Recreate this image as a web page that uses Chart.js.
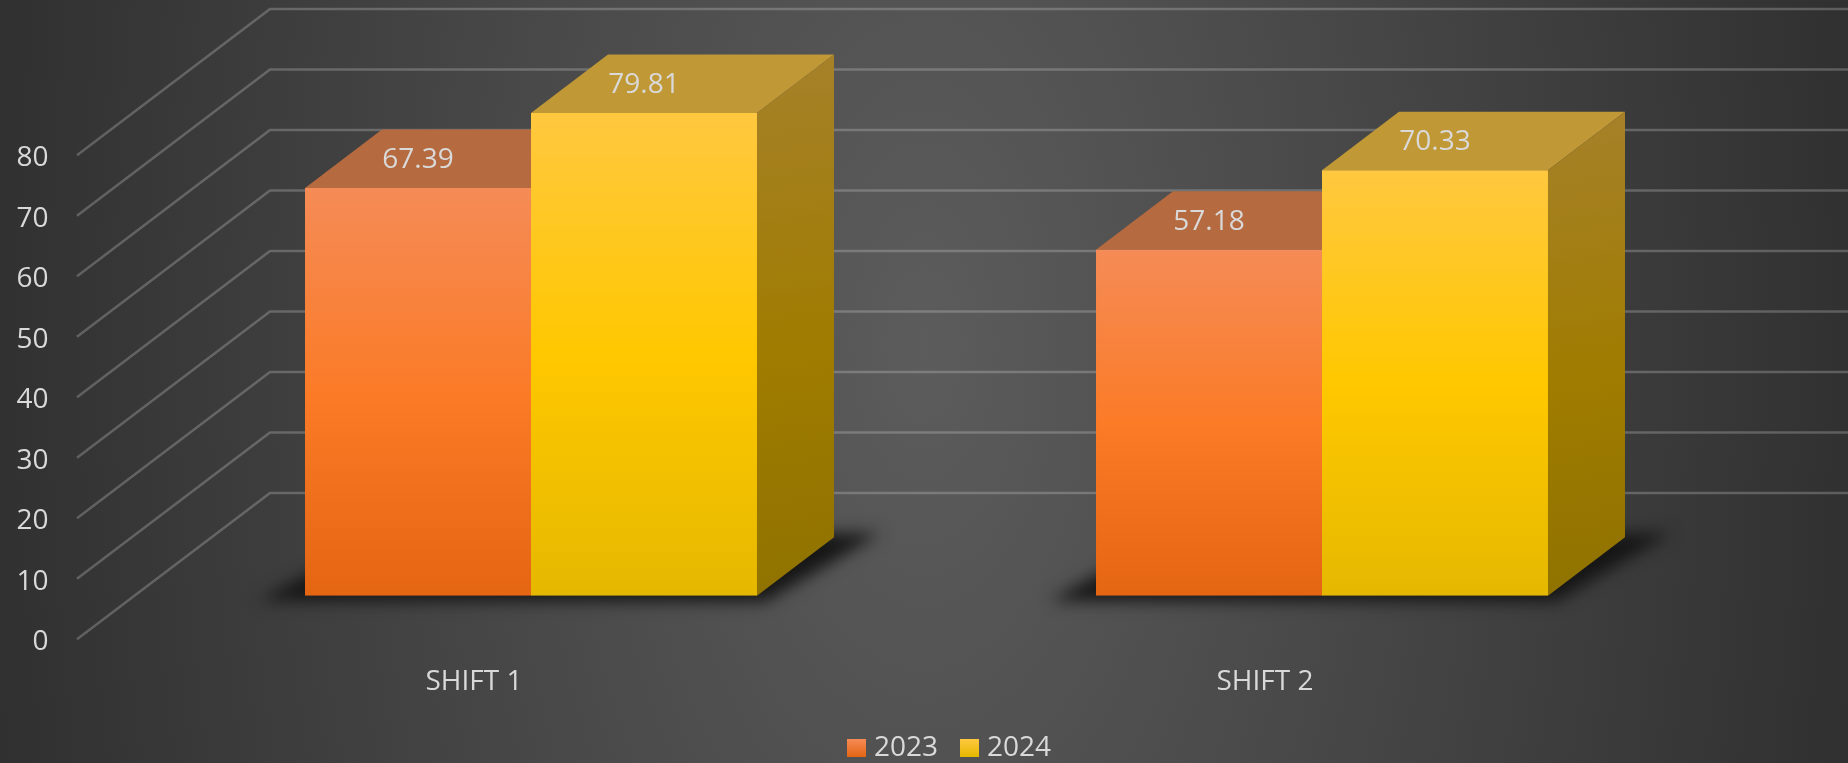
<!DOCTYPE html>
<html>
<head>
<meta charset="utf-8">
<title>Shift comparison</title>
<style>
    html, body { margin: 0; padding: 0; background: #2e2e2e; overflow: hidden; }
    #wrap {
        width: 1848px;
        height: 763px;
        background: radial-gradient(ellipse 51% 240% at 50% 45%, #5c5c5c 0%, #303030 100%);
    }
    canvas { display: block; }
</style>
<script src="https://cdn.jsdelivr.net/npm/chart.js@4/dist/chart.umd.js"></script>
</head>
<body>
<div id="wrap"><canvas id="shiftChart" width="1848" height="763"></canvas></div>
<script>
// Data
const categories = ['SHIFT 1', 'SHIFT 2'];
const series2023 = [67.39, 57.18];
const series2024 = [79.81, 70.33];
const seriesNames = ['2023', '2024'];

const FONT = '"Open Sans", "Noto Sans", sans-serif';
const FONT_SIZE = 28;
const TEXT_COLOR = '#d9d9d9';

// Oblique projection used for the fake 3D look
const DEPTH_X = 77;
const DEPTH_Y = 58.5;
const WALL_X_FRONT = 77;
const WALL_X_BACK = 270;
const FLOOR_FRONT_DY = 43.5;   // front edge of the floor, below the bar baseline
const WALL_BACK_DY = -102.7;   // back wall, above the bar baseline

const palettes = [
    {
        stops: ['#f58b56', '#fb7b27', '#e46512'],
        top: '#b66a40',
        side: ['#a5603a', '#9c5a20', '#8e4f10']
    },
    {
        stops: ['#ffc83f', '#ffc800', '#e5b800'],
        top: '#c09836',
        side: ['#a6812a', '#a07c00', '#8f7200']
    }
];

function frontGradient(context, datasetIndex) {
    const chart = context.chart;
    const yScale = chart.scales.y;
    const fallback = palettes[datasetIndex].stops[1];
    if (!yScale || context.raw === undefined) return fallback;
    const y0 = yScale.getPixelForValue(context.raw);
    const y1 = yScale.getPixelForValue(0);
    if (!Number.isFinite(y0) || !Number.isFinite(y1)) return fallback;
    const g = chart.ctx.createLinearGradient(0, y0, 0, y1);
    g.addColorStop(0, palettes[datasetIndex].stops[0]);
    g.addColorStop(0.5, palettes[datasetIndex].stops[1]);
    g.addColorStop(1, palettes[datasetIndex].stops[2]);
    return g;
}

function fillPoly(ctx, points, fill) {
    ctx.beginPath();
    points.forEach((p, i) => (i === 0 ? ctx.moveTo(p[0], p[1]) : ctx.lineTo(p[0], p[1])));
    ctx.closePath();
    ctx.fillStyle = fill;
    ctx.fill();
}

// Walls, floor shadow and the top/side faces go behind the bars
const depthPlugin = {
    id: 'depth',
    beforeDatasetsDraw(chart) {
        const ctx = chart.ctx;
        const yScale = chart.scales.y;
        const right = chart.width;

        ctx.save();
        ctx.strokeStyle = 'rgba(217, 217, 217, 0.27)';
        ctx.lineWidth = 2.5;
        yScale.ticks.forEach(tick => {
            const y = yScale.getPixelForValue(tick.value);
            ctx.beginPath();
            ctx.moveTo(WALL_X_FRONT, y + FLOOR_FRONT_DY);
            ctx.lineTo(WALL_X_BACK, y + WALL_BACK_DY);
            ctx.lineTo(right, y + WALL_BACK_DY);
            ctx.stroke();
        });
        ctx.restore();

        const metas = chart.data.datasets.map((_, i) => chart.getDatasetMeta(i));
        const base = yScale.getPixelForValue(0);

        // Shadow under each group of bars
        ctx.save();
        ctx.filter = 'blur(8px)';
        categories.forEach((_, j) => {
            const first = metas[0].data[j];
            const last = metas[metas.length - 1].data[j];
            const left = first.x - first.width / 2;
            const end = last.x + last.width / 2;
            fillPoly(ctx, [
                [left - 46, base + 5],
                [end + 8, base + 6],
                [end + DEPTH_X + 46, base - DEPTH_Y - 4],
                [left + DEPTH_X, base - DEPTH_Y - 4]
            ], '#161616');
        });
        ctx.restore();

        metas.forEach((meta, i) => {
            meta.data.forEach(bar => {
                const l = bar.x - bar.width / 2;
                const r = bar.x + bar.width / 2;
                const t = bar.y;
                fillPoly(ctx, [
                    [l, t],
                    [r, t],
                    [r + DEPTH_X, t - DEPTH_Y],
                    [l + DEPTH_X, t - DEPTH_Y]
                ], palettes[i].top);

                const g = ctx.createLinearGradient(r, t - DEPTH_Y, r + DEPTH_X, base);
                g.addColorStop(0, palettes[i].side[0]);
                g.addColorStop(0.55, palettes[i].side[1]);
                g.addColorStop(1, palettes[i].side[2]);
                fillPoly(ctx, [
                    [r, t],
                    [r + DEPTH_X, t - DEPTH_Y],
                    [r + DEPTH_X, base - DEPTH_Y],
                    [r, base]
                ], g);
            });
        });
    },
    afterDatasetsDraw(chart) {
        // Value labels sit on the top face of each bar
        const ctx = chart.ctx;
        ctx.save();
        ctx.font = `${FONT_SIZE}px ${FONT}`;
        ctx.fillStyle = TEXT_COLOR;
        ctx.textAlign = 'center';
        ctx.textBaseline = 'middle';
        chart.data.datasets.forEach((ds, i) => {
            chart.getDatasetMeta(i).data.forEach((bar, j) => {
                ctx.fillText(ds.data[j].toFixed(2), bar.x, bar.y - 28);
            });
        });
        ctx.restore();
    },
    afterDraw(chart) {
        // Legend, the built-in one can't do this swatch-to-text spacing
        const ctx = chart.ctx;
        const swatchX = [847, 960];
        ctx.save();
        ctx.font = `${FONT_SIZE}px ${FONT}`;
        ctx.textAlign = 'left';
        ctx.textBaseline = 'middle';
        chart.data.datasets.forEach((ds, i) => {
            const g = ctx.createLinearGradient(0, 739, 0, 757);
            g.addColorStop(0, palettes[i].stops[0]);
            g.addColorStop(1, palettes[i].stops[2]);
            ctx.fillStyle = g;
            ctx.fillRect(swatchX[i], 739, 19, 18);
            ctx.fillStyle = TEXT_COLOR;
            ctx.fillText(ds.label, swatchX[i] + 27, 748);
        });
        ctx.restore();
    }
};

new Chart(document.getElementById('shiftChart'), {
    type: 'bar',
    data: {
        labels: categories,
        datasets: [
            { label: seriesNames[0], data: series2023, backgroundColor: c => frontGradient(c, 0) },
            { label: seriesNames[1], data: series2024, backgroundColor: c => frontGradient(c, 1) }
        ]
    },
    options: {
        responsive: false,
        animation: false,
        layout: { padding: { top: 111.8, right: 130.5, bottom: 0, left: 0 } },
        datasets: { bar: { barPercentage: 1, categoryPercentage: 0.5714 } },
        plugins: {
            legend: { display: false },
            tooltip: { enabled: false }
        },
        scales: {
            x: {
                afterFit: scale => { scale.height = 167.3; },
                grid: { display: false, drawTicks: false },
                border: { display: false },
                ticks: {
                    color: TEXT_COLOR,
                    font: { family: FONT, size: FONT_SIZE },
                    padding: 70,
                    labelOffset: -57,
                    maxRotation: 0
                }
            },
            y: {
                min: 0,
                max: 80,
                afterFit: scale => { scale.width = 135.5; },
                grid: { display: false, drawTicks: false },
                border: { display: false },
                ticks: {
                    stepSize: 10,
                    color: TEXT_COLOR,
                    font: { family: FONT, size: FONT_SIZE },
                    padding: 87,
                    labelOffset: 46.5
                }
            }
        }
    },
    plugins: [depthPlugin]
});
</script>
</body>
</html>
